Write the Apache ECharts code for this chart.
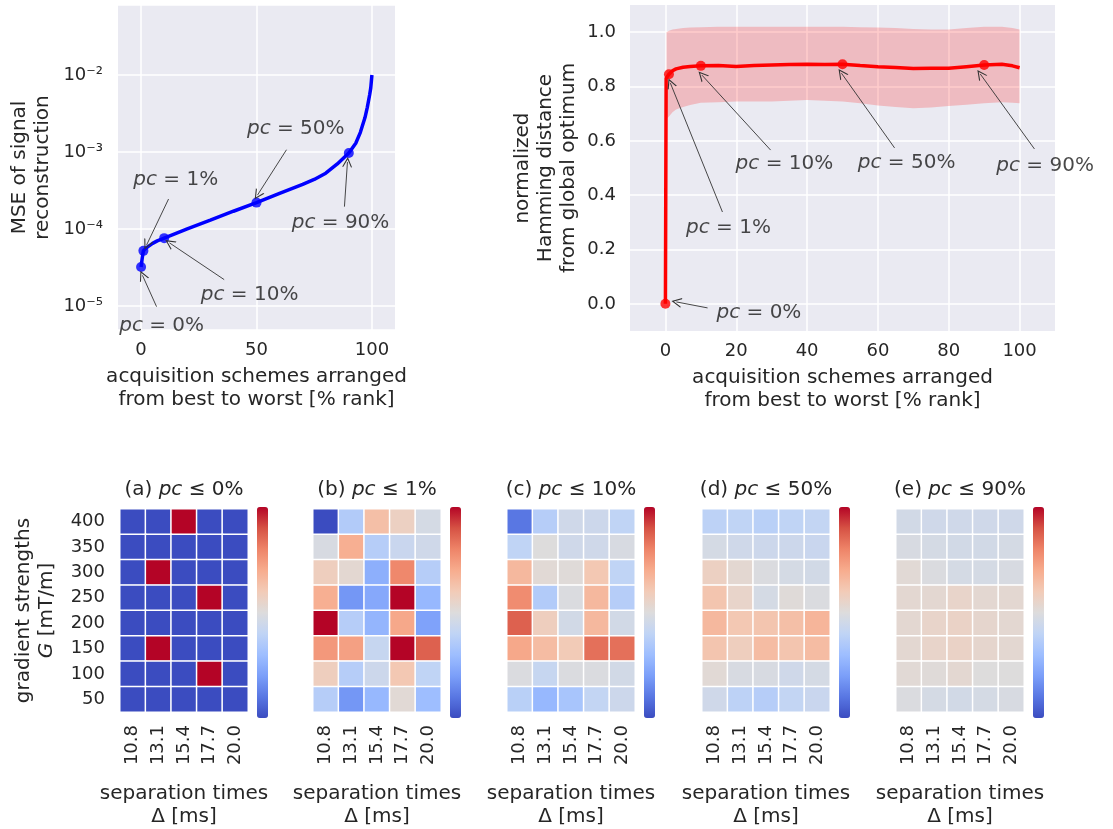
<!DOCTYPE html>
<html>
<head>
<meta charset="utf-8">
<script src="https://cdn.jsdelivr.net/npm/echarts@6/dist/echarts.min.js"></script>
<style>
html,body{margin:0;padding:0;background:#fff;}
#chart{width:1113px;height:829px;}
</style>
</head>
<body>
<div id="chart"></div>
<script>
// ---------- data ----------
// top-left: MSE of reconstruction vs. % rank
const mseRank = [0, 0.5, 1, 2, 3, 5, 7, 10, 20, 30, 40, 50, 60, 70, 75, 80, 85, 90, 93, 95, 97, 98, 99, 99.5, 100];
const mseVal  = [3.2e-5, 4.2e-5, 5.2e-5, 5.6e-5, 5.9e-5, 6.5e-5, 7.0e-5, 7.6e-5, 1.0e-4, 1.3e-4, 1.7e-4, 2.2e-4, 2.9e-4, 3.8e-4, 4.4e-4, 5.3e-4, 7.0e-4, 9.7e-4, 1.3e-3, 1.8e-3, 2.8e-3, 3.8e-3, 5.5e-3, 6.8e-3, 1.0e-2];
const pcRank = [0, 1, 10, 50, 90];
const pcLabels = ['0%', '1%', '10%', '50%', '90%'];
const msePc = [3.2e-5, 5.2e-5, 7.6e-5, 2.2e-4, 9.7e-4];
// annotation text anchors and arrows (data coordinates) for top-left
const mseTextPos = [[8.9, 5.6e-6], [15, 4.4e-4], [47, 1.38e-5], [67, 2.0e-3], [86.4, 1.2e-4]];
const mseArrowFrom = [[6.7, 9.8e-6], [11.9, 2.45e-4], [36, 2.2e-5], [63, 1.07e-3], [88.1, 1.95e-4]];
const mseArrowTo = [[0.6, 2.5e-5], [2.4, 6.2e-5], [12.3, 6.6e-5], [50.4, 2.75e-4], [89.4, 7.4e-4]];

// top-right: normalized Hamming distance
const hamRank = [0, 0.2, 1, 2, 3, 5, 7, 10, 15, 20, 25, 30, 35, 40, 45, 50, 55, 60, 65, 70, 75, 80, 85, 90, 95, 98, 100];
const hamMean = [0, 0.83, 0.845, 0.858, 0.865, 0.871, 0.874, 0.876, 0.877, 0.874, 0.877, 0.879, 0.881, 0.882, 0.881, 0.882, 0.877, 0.873, 0.870, 0.866, 0.867, 0.867, 0.873, 0.879, 0.882, 0.876, 0.869];
const bandRank = [0.3, 1, 2, 3, 5, 7, 10, 15, 20, 25, 30, 35, 40, 45, 50, 55, 60, 65, 70, 75, 80, 85, 90, 95, 98, 100];
const bandLow  = [0.68, 0.69, 0.705, 0.715, 0.725, 0.732, 0.740, 0.742, 0.745, 0.745, 0.745, 0.748, 0.750, 0.748, 0.745, 0.738, 0.730, 0.725, 0.720, 0.723, 0.728, 0.733, 0.738, 0.742, 0.740, 0.738];
const bandHigh = [1.00, 1.005, 1.010, 1.012, 1.015, 1.017, 1.018, 1.020, 1.020, 1.020, 1.020, 1.020, 1.020, 1.020, 1.020, 1.018, 1.017, 1.015, 1.012, 1.010, 1.010, 1.015, 1.020, 1.020, 1.015, 1.010];
const hamPc = [0, 0.845, 0.876, 0.882, 0.879];
const hamTextPos = [[26.4, -0.033], [17.8, 0.279], [33.6, 0.515], [68.1, 0.518], [107.2, 0.507]];
const hamArrowFrom = [[11.9, -0.015], [16.1, 0.338], [29.7, 0.566], [64.7, 0.574], [104.2, 0.57]];
const hamArrowTo = [[3.1, 0.007], [1.4, 0.8125], [10.3, 0.842], [49.7, 0.849], [88.9, 0.846]];

// tick labels
const leftXTicks = [0, 50, 100];
const rightXTicks = [0, 20, 40, 60, 80, 100];
const rightYTicks = [0, 0.2, 0.4, 0.6, 0.8, 1.0];

// heatmaps
const sepTimes = ['10.8', '13.1', '15.4', '17.7', '20.0'];
const gradStrengths = ['400', '350', '300', '250', '200', '150', '100', '50']; // top to bottom
const panelTitles = ['(a) ', '(b) ', '(c) ', '(d) ', '(e) '];
const panelPc = ['0%', '1%', '10%', '50%', '90%'];
const hmA = [[0,0,1,0,0],[0,0,0,0,0],[0,1,0,0,0],[0,0,0,1,0],[0,0,0,0,0],[0,1,0,0,0],[0,0,0,1,0],[0,0,0,0,0]];
const hmB = [[0.00,0.36,0.64,0.57,0.47],[0.48,0.69,0.37,0.43,0.45],[0.58,0.53,0.25,0.79,0.37],[0.69,0.18,0.23,1.00,0.28],[1.00,0.37,0.27,0.71,0.21],[0.75,0.73,0.42,1.00,0.87],[0.58,0.37,0.44,0.61,0.40],[0.37,0.18,0.28,0.52,0.30]];
const hmC = [[0.10,0.37,0.45,0.44,0.40],[0.40,0.50,0.45,0.45,0.48],[0.66,0.52,0.51,0.61,0.40],[0.78,0.36,0.49,0.66,0.37],[0.87,0.58,0.46,0.66,0.46],[0.71,0.65,0.60,0.84,0.84],[0.49,0.42,0.49,0.49,0.46],[0.38,0.28,0.33,0.41,0.44]];
const hmD = [[0.39,0.40,0.38,0.40,0.41],[0.47,0.45,0.44,0.44,0.43],[0.57,0.53,0.49,0.47,0.46],[0.62,0.55,0.47,0.51,0.49],[0.66,0.61,0.62,0.64,0.67],[0.62,0.58,0.65,0.62,0.65],[0.52,0.48,0.48,0.45,0.47],[0.45,0.39,0.37,0.41,0.43]];
const hmE = [[0.46,0.45,0.45,0.45,0.45],[0.48,0.47,0.46,0.46,0.47],[0.52,0.49,0.47,0.47,0.48],[0.53,0.53,0.55,0.53,0.53],[0.53,0.55,0.56,0.54,0.53],[0.53,0.55,0.56,0.54,0.53],[0.52,0.51,0.53,0.50,0.50],[0.49,0.47,0.46,0.47,0.48]];
const heatmaps = [hmA, hmB, hmC, hmD, hmE];

// ---------- style ----------
const FONT = 'DejaVu Sans';
const TXT = '#262626';
const BG = '#EAEAF2';
const coolwarm = ['#3b4cc0','#5977e3','#7b9ff9','#9ebeff','#c0d4f5','#dddcdc','#f2cbb7','#f7ac8e','#ee8468','#d65244','#b40426'];
const ARROW = 'path://M0,10 L5,0 L10,10 L8.8,10 L5,2.4 L1.2,10 Z';
const italic = {fontStyle: 'italic', fontFamily: FONT, fontSize: 20, color: '#1a1a1a'};

const sup = {'-': '\u207B', '0': '\u2070', '1': '\u00B9', '2': '\u00B2', '3': '\u00B3', '4': '\u2074', '5': '\u2075', '6': '\u2076', '7': '\u2077', '8': '\u2078', '9': '\u2079'};
function logLabel(v) {
  const e = Math.log10(v);
  const r = Math.round(e);
  if (Math.abs(e - r) > 0.01) return '';
  return '10' + String(r).split('').map(c => sup[c]).join('');
}

const grids = [
  {left: 118, top: 5, width: 277, height: 325, show: true, backgroundColor: BG, borderWidth: 0},
  {left: 630, top: 5, width: 425, height: 326, show: true, backgroundColor: BG, borderWidth: 0}
];
const hmLefts = [120, 313, 507, 702, 896];
hmLefts.forEach(l => grids.push({left: l, top: 509, width: 128, height: 209, show: false}));

const tickLabel = {fontFamily: FONT, fontSize: 18, color: TXT};
const nameStyle = {fontFamily: FONT, fontSize: 20, color: TXT, lineHeight: 23};

const xAxes = [
  {gridIndex: 0, type: 'value', min: -10, max: 110,
   name: 'acquisition schemes arranged\nfrom best to worst [% rank]', nameLocation: 'middle', nameGap: 35, nameTextStyle: nameStyle,
   axisLine: {show: false}, axisTick: {show: false, customValues: leftXTicks},
   axisLabel: Object.assign({customValues: leftXTicks, margin: 11}, tickLabel),
   splitLine: {show: true, lineStyle: {color: '#fff', width: 1.5}}},
  {gridIndex: 1, type: 'value', min: -10, max: 110,
   name: 'acquisition schemes arranged\nfrom best to worst [% rank]', nameLocation: 'middle', nameGap: 35, nameTextStyle: nameStyle,
   axisLine: {show: false}, axisTick: {show: false, customValues: rightXTicks},
   axisLabel: Object.assign({customValues: rightXTicks, margin: 11}, tickLabel),
   splitLine: {show: true, lineStyle: {color: '#fff', width: 1.5}}}
];
const yAxes = [
  {gridIndex: 0, type: 'log', logBase: 10, min: Math.pow(10, -5.312), max: Math.pow(10, -1.091),
   name: 'MSE of signal\nreconstruction', nameLocation: 'middle', nameGap: 64, nameTextStyle: nameStyle,
   axisLine: {show: false}, axisTick: {show: false}, minorTick: {show: false},
   axisLabel: Object.assign({formatter: logLabel, margin: 15, showMinLabel: false, showMaxLabel: false}, tickLabel),
   splitLine: {show: true, lineStyle: {color: '#fff', width: 1.5}}},
  {gridIndex: 1, type: 'value', min: -0.1, max: 1.1,
   name: 'normalized\nHamming distance\nfrom global optimum', nameLocation: 'middle', nameGap: 50, nameTextStyle: nameStyle,
   axisLine: {show: false}, axisTick: {show: false, customValues: rightYTicks},
   axisLabel: Object.assign({customValues: rightYTicks, margin: 14, formatter: v => v.toFixed(1)}, tickLabel),
   splitLine: {show: true, lineStyle: {color: '#fff', width: 1.5}}}
];
for (let i = 0; i < 5; i++) {
  xAxes.push({gridIndex: 2 + i, type: 'category', data: sepTimes,
    name: 'separation times\n\u0394 [ms]', nameLocation: 'middle', nameGap: 70, nameTextStyle: nameStyle,
    axisLine: {show: false}, axisTick: {show: false}, splitLine: {show: false},
    axisLabel: Object.assign({rotate: 90, margin: 13}, tickLabel)});
  yAxes.push({gridIndex: 2 + i, type: 'category', data: gradStrengths, inverse: true,
    name: i === 0 ? 'gradient strengths\n{i|G} [mT/m]' : '', nameLocation: 'middle', nameGap: 62,
    nameTextStyle: Object.assign({rich: {i: Object.assign({}, italic, {color: TXT, lineHeight: 23})}}, nameStyle),
    axisLine: {show: false}, axisTick: {show: false}, splitLine: {show: false},
    axisLabel: Object.assign({show: i === 0, margin: 15}, tickLabel)});
}

function annotSeries(xi, textPos, from, to) {
  return {
    type: 'scatter', xAxisIndex: xi, yAxisIndex: xi, z: 5, silent: true,
    symbolSize: 1, itemStyle: {color: 'rgba(0,0,0,0)'},
    data: textPos.map((p, k) => ({value: p, name: pcLabels[k]})),
    label: {show: true, position: 'inside', formatter: p => '{i|pc} = ' + p.name,
      fontFamily: FONT, fontSize: 20, color: '#1a1a1a', rich: {i: italic}},
    markLine: {silent: true, symbol: ['none', ARROW], symbolSize: 10,
      label: {show: false}, lineStyle: {color: '#333', width: 0.9, type: 'solid'},
      emphasis: {disabled: true},
      data: from.map((f, k) => [{coord: f}, {coord: to[k]}])}
  };
}

const series = [
  {type: 'line', xAxisIndex: 0, yAxisIndex: 0, data: mseRank.map((x, k) => [x, mseVal[k]]),
   showSymbol: false, lineStyle: {color: '#0000ff', width: 3.5}, z: 3},
  {type: 'scatter', xAxisIndex: 0, yAxisIndex: 0, data: pcRank.map((x, k) => [x, msePc[k]]),
   symbolSize: 10, itemStyle: {color: '#0000ff'}, z: 4},
  annotSeries(0, mseTextPos, mseArrowFrom, mseArrowTo),
  {type: 'custom', xAxisIndex: 1, yAxisIndex: 1, z: 2, silent: true,
   data: bandRank.map((x, k) => [x, bandLow[k], bandHigh[k]]),
   encode: {x: 0, y: [1, 2]},
   renderItem: function (params, api) {
     if (params.dataIndex !== 0) return null;
     const up = bandRank.map((x, k) => api.coord([x, bandHigh[k]]));
     const lo = bandRank.map((x, k) => api.coord([x, bandLow[k]])).reverse();
     return {type: 'polygon', shape: {points: up.concat(lo)}, style: {fill: 'rgba(255,0,0,0.2)'}};
   }},
  {type: 'line', xAxisIndex: 1, yAxisIndex: 1, data: hamRank.map((x, k) => [x, hamMean[k]]),
   showSymbol: false, lineStyle: {color: '#ff0000', width: 3.5}, z: 3},
  {type: 'scatter', xAxisIndex: 1, yAxisIndex: 1, data: pcRank.map((x, k) => [x, hamPc[k]]),
   symbolSize: 10, itemStyle: {color: '#ff0000'}, z: 4},
  annotSeries(1, hamTextPos, hamArrowFrom, hamArrowTo)
];
const visualMaps = [];
const graphics = [];
heatmaps.forEach((hm, i) => {
  const data = [];
  hm.forEach((row, r) => row.forEach((v, c) => data.push([c, r, v])));
  series.push({type: 'heatmap', xAxisIndex: 2 + i, yAxisIndex: 2 + i, data: data,
    itemStyle: {borderColor: '#ffffff', borderWidth: 1.5}, emphasis: {disabled: true}});
  visualMaps.push({type: 'continuous', seriesIndex: series.length - 1, min: 0, max: 1,
    calculable: false, orient: 'vertical', left: hmLefts[i] + 137, top: 507, padding: 0,
    itemWidth: 11, itemHeight: 211, inRange: {color: coolwarm}, hoverLink: false});
  graphics.push({type: 'text', x: hmLefts[i] + 64, y: 490, silent: true,
    style: {text: panelTitles[i] + '{i|pc} \u2264 ' + panelPc[i], align: 'center', verticalAlign: 'middle',
      fontFamily: FONT, fontSize: 20, fill: TXT, rich: {i: Object.assign({}, italic, {color: TXT})}}});
});

const chart = echarts.init(document.getElementById('chart'), null, {renderer: 'canvas'});
chart.setOption({
  animation: false,
  textStyle: {fontFamily: FONT},
  grid: grids,
  xAxis: xAxes,
  yAxis: yAxes,
  visualMap: visualMaps,
  series: series,
  graphic: graphics
});
</script>
</body>
</html>
